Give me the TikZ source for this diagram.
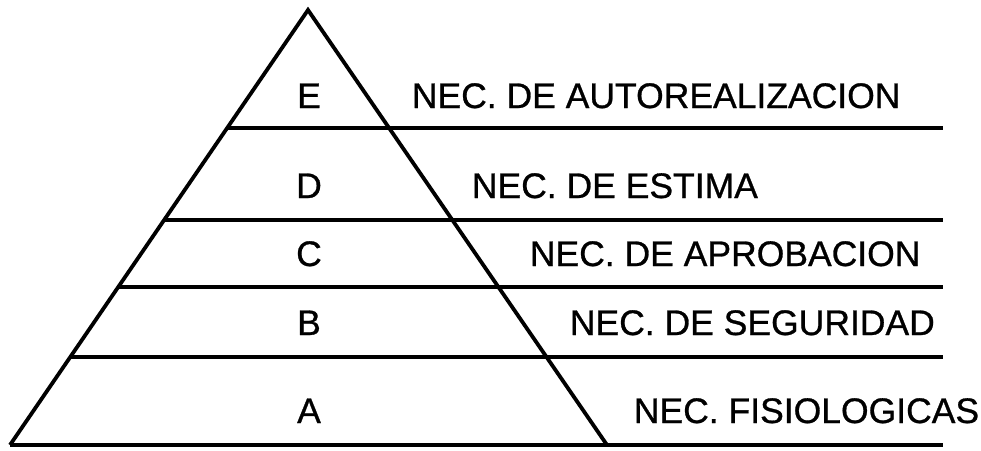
\documentclass[tikz,border=0pt]{standalone}
\usepackage{fontspec}
\setmainfont{Liberation Sans}[FakeBold=0.8]
\begin{document}
\begin{tikzpicture}[x=1pt,y=-1pt,line width=3.8pt,
  lbl/.style={font=\fontsize{35.5}{40}\selectfont, inner sep=0pt, anchor=base west},
  letter/.style={font=\fontsize{35.5}{40}\selectfont, inner sep=0pt, anchor=base}]
\useasboundingbox (0,0) rectangle (981,450);
\coordinate (apex) at (308,10);
\coordinate (bl) at (10,445);
\coordinate (br) at (607,445);
\coordinate (be) at (943,445);
\draw[line join=miter] (bl) -- (apex) -- (br);
\draw (bl) -- (be);
\coordinate (l1) at (227,128); \coordinate (r1) at (943,128);
\coordinate (l2) at (164,220); \coordinate (r2) at (943,220);
\coordinate (l3) at (118,287); \coordinate (r3) at (943,287);
\coordinate (l4) at (70,357);  \coordinate (r4) at (943,357);
\draw (l1) -- (r1);
\draw (l2) -- (r2);
\draw (l3) -- (r3);
\draw (l4) -- (r4);
\node[letter] (E) at (309,108) {E};
\node[letter] (D) at (309,198) {D};
\node[letter] (C) at (309,266) {C};
\node[letter] (B) at (309,335) {B};
\node[letter] (A) at (309,423) {A};
\node[lbl] (nE) at (410,108) {NEC. DE AUTOREALIZACION};
\node[lbl] (nD) at (470,198) {NEC. DE ESTIMA};
\node[lbl] (nC) at (528,266) {NEC. DE APROBACION};
\node[lbl] (nB) at (568,335) {NEC. DE SEGURIDAD};
\node[lbl] (nA) at (632,423) {NEC. FISIOLOGICAS};
\end{tikzpicture}
\end{document}
